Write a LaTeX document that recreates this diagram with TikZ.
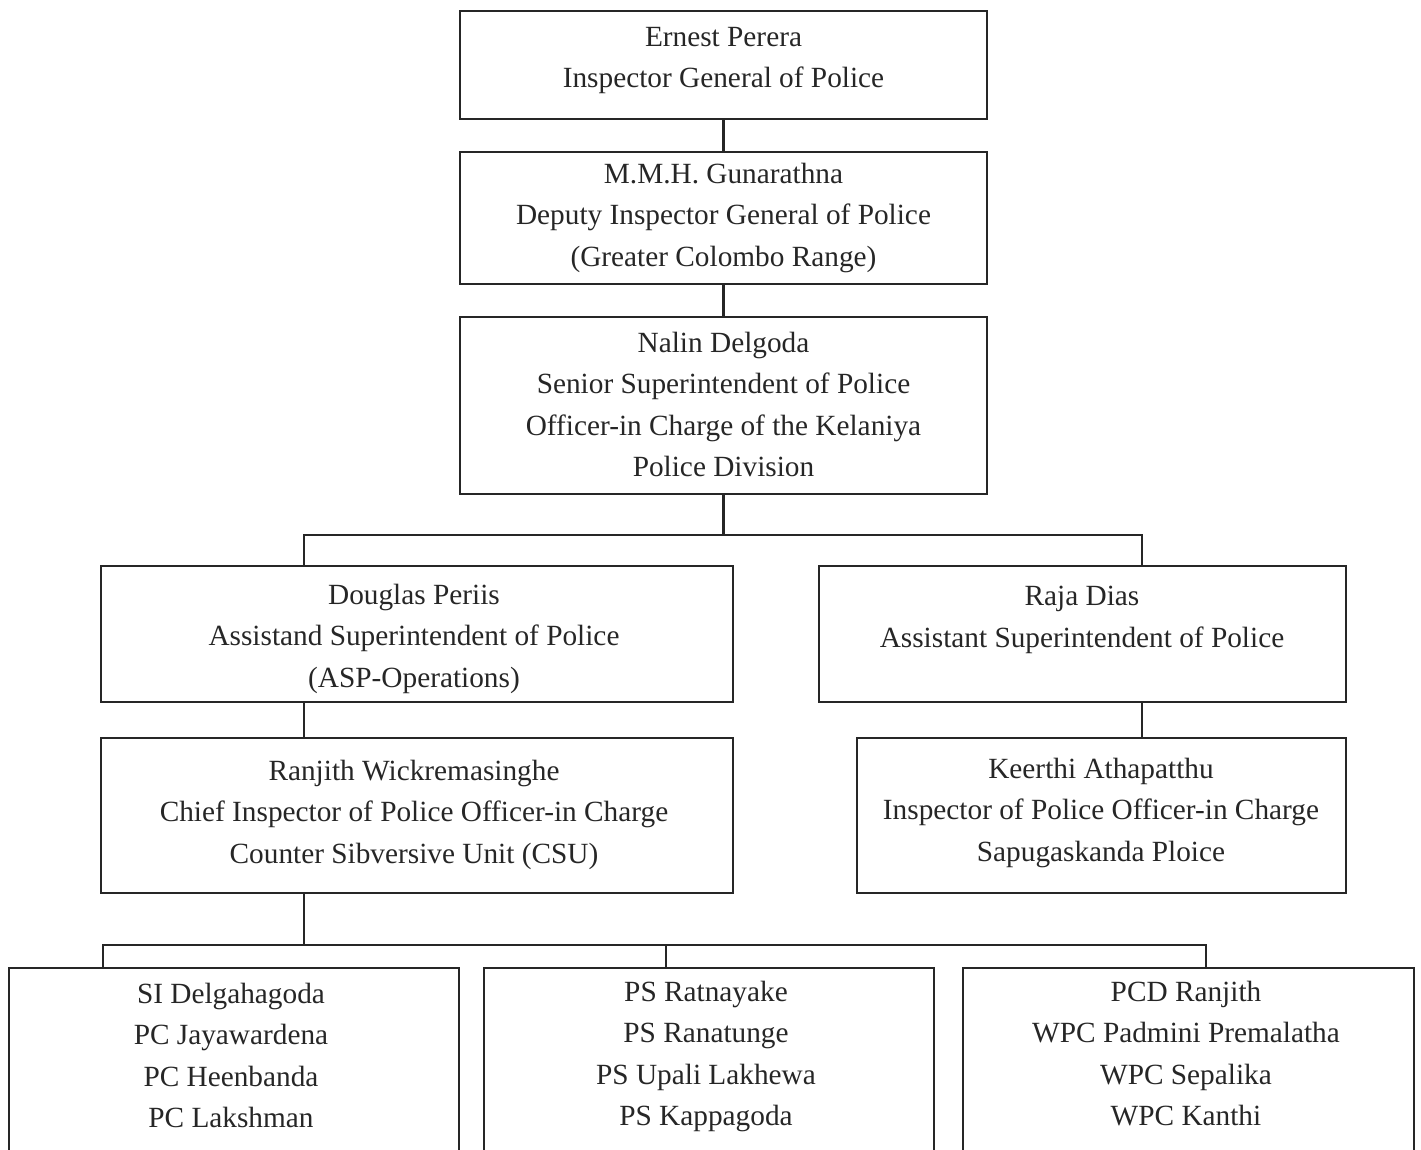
\documentclass[tikz,border=0pt]{standalone}
\usepackage{fontspec}
\setmainfont{Liberation Serif}
\begin{document}
\begin{tikzpicture}[x=1pt,y=-1pt,
  box/.style={draw=black!85, line width=2.6pt, rectangle, inner sep=0pt},
  txt/.style={anchor=north, align=center, inner sep=0pt, text=black!85,
    font=\fontsize{29.3}{41.4}\selectfont},
  conn/.style={draw=black!85, line width=2.4pt}]
\useasboundingbox (0,0) rectangle (1421,1149);
\clip (0,0) rectangle (1421,1149);
% boxes
\node[box, minimum width=527, minimum height=108] (b1) at (723.5,65) {};
\node[box, minimum width=527, minimum height=132] (b2) at (723.5,218) {};
\node[box, minimum width=527, minimum height=177] (b3) at (723.5,405.5) {};
\node[box, minimum width=632, minimum height=136] (b4) at (417,634) {};
\node[box, minimum width=527, minimum height=136] (b5) at (1082.5,634) {};
\node[box, minimum width=632, minimum height=155] (b6) at (417,815.5) {};
\node[box, minimum width=489, minimum height=155] (b7) at (1101.5,815.5) {};
\node[box, minimum width=450, minimum height=240] (b8) at (234,1088) {};
\node[box, minimum width=450, minimum height=240] (b9) at (709,1088) {};
\node[box, minimum width=451, minimum height=240] (b10) at (1188.5,1088) {};
% texts
\node[txt] (t1) at (723.5,27) {Ernest Perera\\Inspector General of Police};
\node[txt] (t2) at (723.5,163) {M.M.H. Gunarathna\\Deputy Inspector General of Police\\(Greater Colombo Range)};
\node[txt] (t3) at (723.5,332) {Nalin Delgoda\\Senior Superintendent of Police\\Officer-in Charge of the Kelaniya\\Police Division};
\node[txt] (t4) at (414,584) {Douglas Periis\\Assistand Superintendent of Police\\(ASP-Operations)};
\node[txt] (t5) at (1082,586) {Raja Dias\\Assistant Superintendent of Police};
\node[txt] (t6) at (414,760) {Ranjith Wickremasinghe\\Chief Inspector of Police Officer-in Charge\\Counter Sibversive Unit (CSU)};
\node[txt] (t7) at (1101,758) {Keerthi Athapatthu\\Inspector of Police Officer-in Charge\\Sapugaskanda Ploice};
\node[txt] (t8) at (231,983) {SI Delgahagoda\\PC Jayawardena\\PC Heenbanda\\PC Lakshman};
\node[txt] (t9) at (706,981) {PS Ratnayake\\PS Ranatunge\\PS Upali Lakhewa\\PS Kappagoda};
\node[txt] (t10) at (1186,981) {PCD Ranjith\\WPC Padmini Premalatha\\WPC Sepalika\\WPC Kanthi};
% connectors
\draw[conn] (b1.south) -- (b2.north);
\draw[conn] (b2.south) -- (b3.north);
\coordinate (jL) at (304,535);
\coordinate (jR) at (1142,535);
\draw[conn] (b3.south) -- (b3.south |- jL);
\draw[conn] (jL |- b4.north) -- (jL) -- (jR) -- (jR |- b5.north);
\draw[conn] (jL |- b4.south) -- (jL |- b6.north);
\draw[conn] (jR |- b5.south) -- (jR |- b7.north);
\coordinate (kA) at (103,945);
\coordinate (kB) at (666,945);
\coordinate (kC) at (1206,945);
\draw[conn] (jL |- b6.south) -- (jL |- kA);
\draw[conn] (kA |- b8.north) -- (kA) -- (kC) -- (kC |- b10.north);
\draw[conn] (kB) -- (kB |- b9.north);
\end{tikzpicture}
\end{document}
